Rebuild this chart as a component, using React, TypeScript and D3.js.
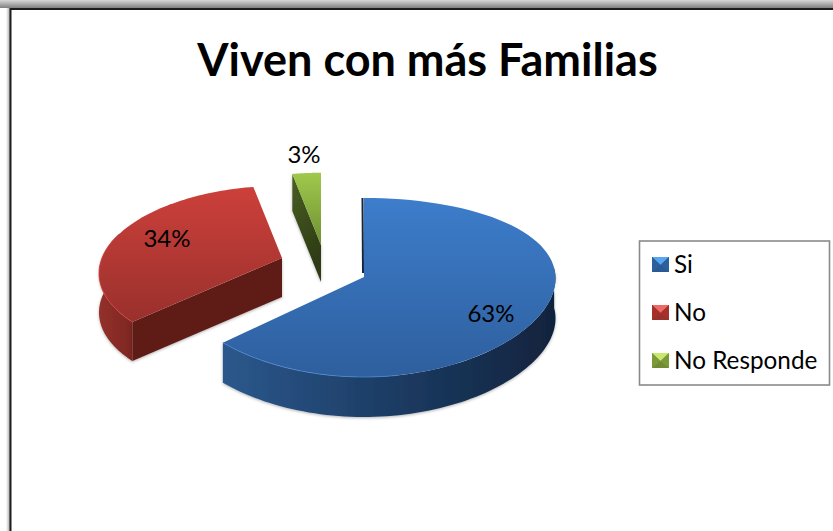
import React from "react";
import * as d3 from "d3";

const title = "Viven con más Familias";
const categories = ["Si", "No", "No Responde"];
const shares = [63, 34, 3];
const shareLabels = ["63%", "34%", "3%"];

const W = 833, H = 531;
const FONT = "Lato, Carlito, 'Open Sans', sans-serif";

// Per-slice layout: exploded apex and perspective of the tilted disc.
const sliceLayout = [
  { cx: 364, cy: 277, rx: 191.5, ry: 88.3, ky: 0.117, kx: 0.016, depth: 40, label: [491, 322] },
  { cx: 282, cy: 258, rx: 180, ry: 83.5, ky: 0.156, kx: 0.18, depth: 39, label: [167, 247] },
  { cx: 321, cy: 245, rx: 180, ry: 83.5, ky: 0.156, kx: 0.18, depth: 37, label: [304, 163] },
];

const palettes = [
  { top: ["#3d7dcb", "#2e5f9e"], wall: ["#2b588c", "#1c3c64", "#11233d"], cut: "#12263f", rim: "#4a86cf" },
  { top: ["#cd403b", "#99302c"], wall: ["#93302a", "#7d2723"], cut: "#5e1b19", rim: "#d5453f" },
  { top: ["#a0c94c", "#6f9034"], wall: ["#4a5f24", "#2d3a14"], cut: "#3a4a1c", rim: "#a0c94c" },
];
const legendBevel = [
  { base: "#2f66a8", light: "#58a6ee", side: "#2c5f9c", low: "#2a5a94" },
  { base: "#b0352f", light: "#ee6a64", side: "#a5302c", low: "#98302b" },
  { base: "#86a340", light: "#cbe86e", side: "#7d9a3a", low: "#718c34" },
];

const pieGen = d3.pie<number>().sort(null).value((d) => d);
const arcs = pieGen(shares);

type L = typeof sliceLayout[number];
const project = (l: L, a: number, drop = 0): [number, number] => {
  const u = Math.sin(a), v = -Math.cos(a);
  return [l.cx + (l.rx * u) / (1 - l.kx * v), l.cy + (l.ry * v) / (1 - l.ky * v) + drop];
};
const samples = (a0: number, a1: number, n = 80) => d3.range(n + 1).map((i) => a0 + ((a1 - a0) * i) / n);
const line = d3.line<[number, number]>();

const topFace = (l: L, a0: number, a1: number) =>
  line([[l.cx, l.cy], ...samples(a0, a1).map((a) => project(l, a))]) + "Z";
const rimPath = (l: L, a0: number, a1: number) => line(samples(a0, a1).map((a) => project(l, a))) || "";
const wall = (l: L, a0: number, a1: number) => {
  const s = samples(a0, a1);
  return line([...s.map((a) => project(l, a)), ...[...s].reverse().map((a) => project(l, a, l.depth))]) + "Z";
};
const cutFace = (l: L, a: number) => {
  const p = project(l, a), q = project(l, a, l.depth);
  return line([[l.cx, l.cy], p, q, [l.cx, l.cy + l.depth]]) + "Z";
};

function Slice({ i }: { i: number }) {
  const l = sliceLayout[i], p = palettes[i], { startAngle: s, endAngle: e } = arcs[i];
  const rad = (deg: number) => (deg * Math.PI) / 180;
  return (
    <g>
      {i === 0 && <path d={wall(l, rad(84), e)} fill="url(#wall0)" filter="url(#soft)" />}
      {i === 1 && (
        <g>
          <path d={wall(l, s, rad(288))} fill="url(#wall1)" filter="url(#soft)" />
          <path d={cutFace(l, s)} fill={p.cut} filter="url(#soft)" />
        </g>
      )}
      {i === 2 && <path d={cutFace(l, s)} fill="url(#wall2)" filter="url(#soft)" />}
      <path d={topFace(l, s, e)} fill={`url(#top${i})`} />
      {i === 0 && (
        <path d={line([[l.cx + 0.5, l.cy - 4], project(l, s)])!} fill="none" stroke={p.cut} strokeWidth={2} transform="translate(-1.5,0)" />
      )}
      {i === 0 && <path d={rimPath(l, rad(170), e)} fill="none" stroke={p.rim} strokeWidth={1} strokeOpacity={0.8} />}
      {i === 1 && <path d={rimPath(l, s, rad(285))} fill="none" stroke={p.rim} strokeWidth={1} strokeOpacity={0.8} />}
    </g>
  );
}

export default function App() {
  const legendX = 652, legendYs = [264, 312, 360], mw = 17, mh = 15;
  return (
    <svg width={W} height={H} viewBox={`0 0 ${W} ${H}`} style={{ position: "absolute", left: 0, top: 0, background: "#fff" }}>
      <defs>
        <linearGradient id="shadeTop" x1="0" y1="0" x2="0" y2="1">
          <stop offset="0" stopColor="#d8d8d8" />
          <stop offset="1" stopColor="#808080" />
        </linearGradient>
        <linearGradient id="shadeLeft" x1="0" y1="0" x2="1" y2="0">
          <stop offset="0" stopColor="#ffffff" />
          <stop offset="1" stopColor="#a8a8a8" />
        </linearGradient>
        <filter id="soft" x="-10%" y="-10%" width="120%" height="120%">
          <feDropShadow dx="0" dy="1" stdDeviation="1.5" floodColor="#000" floodOpacity="0.3" />
        </filter>
        {palettes.map((p, i) => (
          <linearGradient key={i} id={`top${i}`} x1="0" y1="0" x2="0" y2="1">
            <stop offset="0" stopColor={p.top[0]} />
            <stop offset="1" stopColor={p.top[1]} />
          </linearGradient>
        ))}
        {palettes.map((p, i) => (
          <linearGradient key={i} id={`wall${i}`} x1="0" y1="0" x2={i === 2 ? "0.3" : "1"} y2={i === 2 ? "1" : "0"}>
            {p.wall.map((c, j) => (
              <stop key={j} offset={j / (p.wall.length - 1)} stopColor={c} />
            ))}
          </linearGradient>
        ))}
      </defs>

      <rect x={0} y={0} width={W} height={8} fill="url(#shadeTop)" />
      <rect x={6} y={8} width={4} height={H - 8} fill="url(#shadeLeft)" />
      <path d={`M${W},9H10.5V${H}`} fill="none" stroke="#1c1c1c" strokeWidth={2} />

      <text x={427.5} y={76} textAnchor="middle" fontFamily={FONT} fontWeight={700} fontSize={45} fill="#000">
        {title}
      </text>

      {[2, 1, 0].map((i) => (
        <Slice key={i} i={i} />
      ))}

      {shareLabels.map((t, i) => (
        <text key={t} x={sliceLayout[i].label[0]} y={sliceLayout[i].label[1]} textAnchor="middle" fontFamily={FONT} fontSize={24} fill="#000">
          {t}
        </text>
      ))}

      <rect x={639.5} y={241} width={190} height={144} fill="#fff" stroke="#8a8a8a" strokeWidth={1.6} />
      {categories.map((c, i) => {
        const y = legendYs[i] - 7, b = legendBevel[i];
        const xm = legendX + mw / 2, ym = y + 8, xr = legendX + mw, yb = y + mh;
        return (
          <g key={c}>
            <rect x={legendX} y={y} width={mw} height={mh} fill={b.base} />
            <path d={`M${legendX},${y}H${xr}L${xm},${ym}Z`} fill={b.light} />
            <path d={`M${legendX},${y}L${xm},${ym}L${legendX},${yb}Z`} fill={b.side} />
            <path d={`M${xr},${y}L${xm},${ym}L${xr},${yb}Z`} fill={b.side} />
            <path d={`M${legendX},${yb}L${xm},${ym}L${xr},${yb}Z`} fill={b.low} />
            <text x={674} y={legendYs[i] + 9} fontFamily={FONT} fontSize={24.3} fill="#000">
              {c}
            </text>
          </g>
        );
      })}
    </svg>
  );
}
